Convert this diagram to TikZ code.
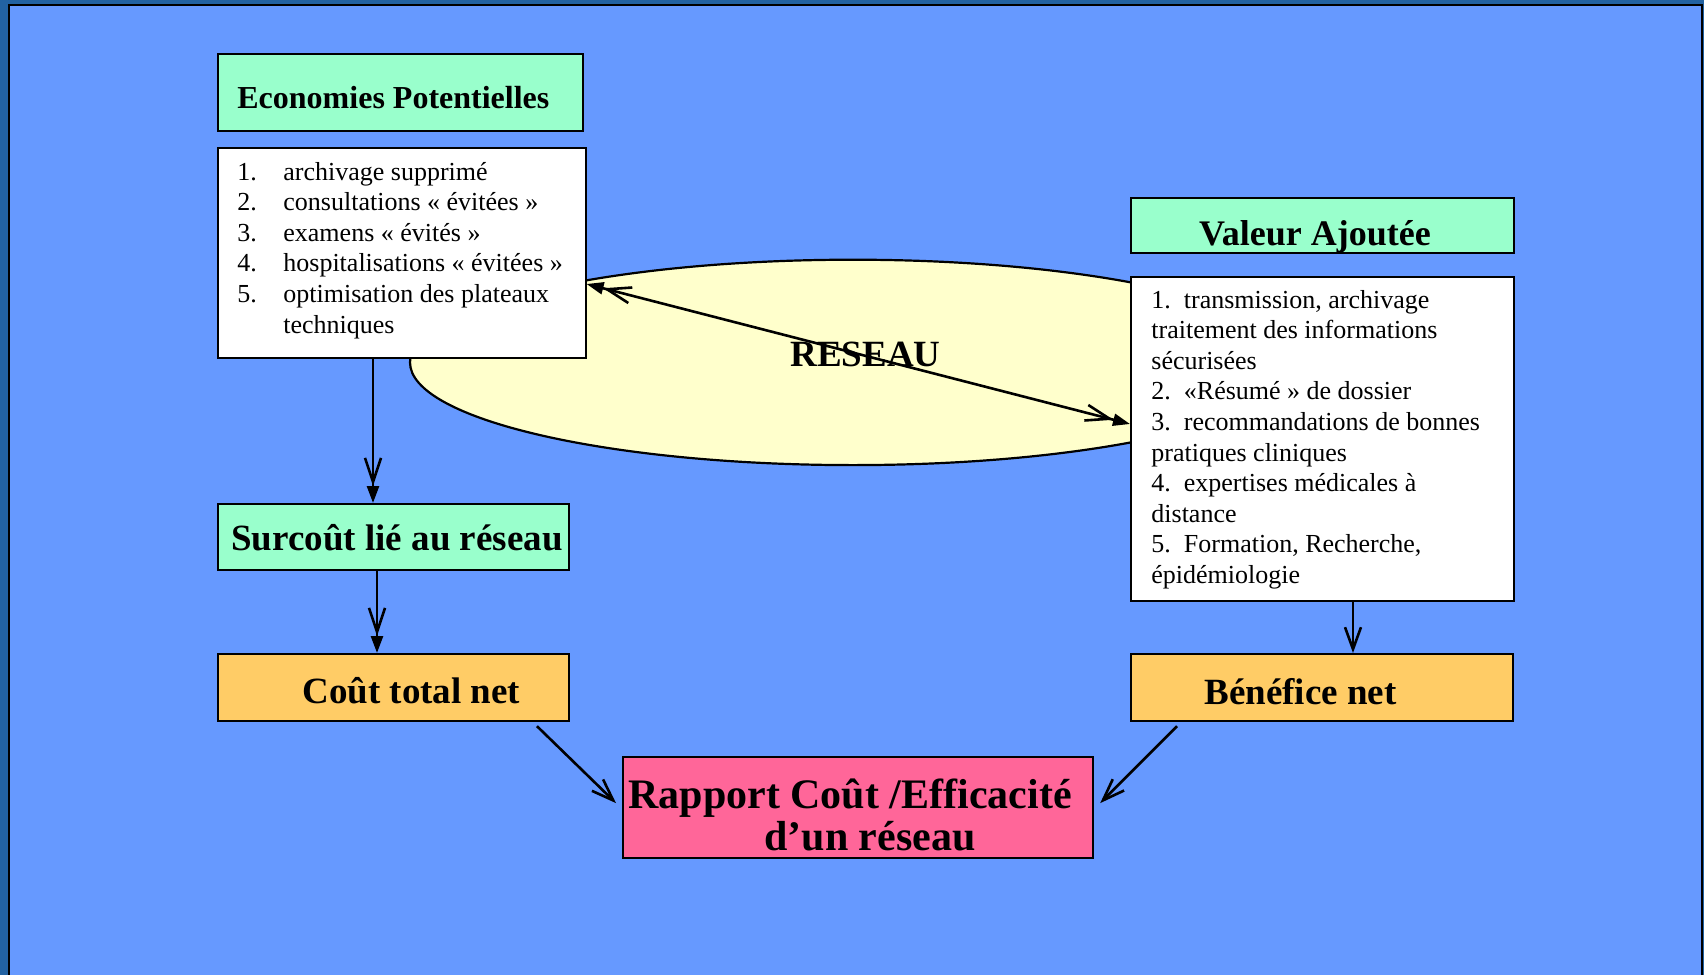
\documentclass[tikz,border=0pt]{standalone}
\usepackage{fontspec}
\setmainfont{Liberation Serif}
\usetikzlibrary{arrows.meta,shapes.geometric,calc}

\definecolor{framedark}{HTML}{2262A2}
\definecolor{slide}{HTML}{6699FF}
\definecolor{mint}{HTML}{99FFCC}
\definecolor{apricot}{HTML}{FFCC66}
\definecolor{rose}{HTML}{FF6699}
\definecolor{cream}{HTML}{FFFFCC}

\tikzset{
  x=0.5pt, y=-0.5pt,
  box/.style={draw, line width=1.1pt, inner sep=0pt, anchor=north west},
  listbox/.style={draw, line width=0.8pt, fill=white, inner sep=0pt, anchor=north west},
  head/.style={font=\fontsize{18.5}{22}\selectfont\bfseries, inner sep=0pt, anchor=base west},
  item/.style={font=\fontsize{13}{15}\selectfont, inner sep=0pt, anchor=base west},
  link/.style={line width=1.3pt},
  flow/.style={link, -{Straight Barb[length=12pt,width=8pt,sep=0pt] Triangle[length=8.5pt,width=6pt]}},
  plain/.style={link, -{Straight Barb[length=11pt,width=8pt]}},
  both/.style={link, {Triangle[length=8.5pt,width=6pt] Straight Barb[length=12pt,width=8pt,sep=0pt]}-{Straight Barb[length=12pt,width=8pt,sep=0pt] Triangle[length=8.5pt,width=6pt]}}
}

\begin{document}
\begin{tikzpicture}
\useasboundingbox (0,0) rectangle (1704,975);

% slide frame and background
\fill[framedark] (0,0) rectangle (1704,975);
\draw[fill=slide, line width=1pt] (9,5) rectangle (1702,990);

% network ellipse in the middle
\node[ellipse, draw, line width=1.1pt, fill=cream, inner sep=0pt,
      minimum width=443pt, minimum height=102.7pt] (reseau) at (853,362.4) {};
\node[head] (reseaulbl) at (790,366) {RESEAU};

% left column
\node[box, fill=mint, minimum width=182.5pt, minimum height=38.5pt] (eco) at (217,53) {};
\node[head, font=\fontsize{16}{19}\selectfont\bfseries] (ecolbl) at (237,108) {Economies Potentielles};

\node[listbox, minimum width=184pt, minimum height=105pt] (ecolist) at (217,147) {};
\foreach \num/\txt [count=\i] in {1./archivage supprimé,
    2./consultations « évitées »,
    3./examens « évités »,
    4./hospitalisations « évitées »,
    5./optimisation des plateaux}{
  \node[item] (en\i) at (237,{180+30.6*(\i-1)}) {\num};
  \node[item] (et\i) at (283,{180+30.6*(\i-1)}) {\txt};
}
\node[item] (et6) at (283,333) {techniques};

\node[box, fill=mint, minimum width=175.5pt, minimum height=33pt] (surcout) at (217,503) {};
\node[head] (surcoutlbl) at (231,550) {Surcoût lié au réseau};

\node[box, fill=apricot, minimum width=175.5pt, minimum height=33.5pt] (cout) at (217,653) {};
\node[head] (coutlbl) at (302,703) {Coût total net};

% right column
\node[box, fill=mint, minimum width=191.5pt, minimum height=27.5pt] (valeur) at (1130,197) {};
\node[head, font=\fontsize{18}{22}\selectfont\bfseries, anchor=base] (valeurlbl) at (1315,245) {Valeur Ajoutée};

\node[listbox, minimum width=191.5pt, minimum height=162pt] (vallist) at (1130,276) {};
\foreach \txt [count=\i] in {{1.~~transmission, archivage},
    {traitement des informations},
    {sécurisées},
    {2.~~«Résumé » de dossier},
    {3.~~recommandations de bonnes},
    {pratiques cliniques},
    {4.~~expertises médicales à},
    {distance},
    {5.~~Formation, Recherche,},
    {épidémiologie}}{
  \node[item] (vt\i) at (1151,{308+30.6*(\i-1)}) {\txt};
}

\node[box, fill=apricot, minimum width=191pt, minimum height=33.5pt] (benef) at (1130,653) {};
\node[head] (beneflbl) at (1204,704) {Bénéfice net};

% bottom result
\node[box, fill=rose, minimum width=235pt, minimum height=50.5pt] (rapport) at (622,756) {};
\node[head, font=\fontsize{21}{25}\selectfont\bfseries] (rap1) at (628,808) {Rapport Coût /Efficacité};
\node[head, font=\fontsize{21}{25}\selectfont\bfseries] (rap2) at (764,850) {d’un réseau};

% connectors
\draw[both] ([yshift=-68.5pt]ecolist.north east) -- ([yshift=-74pt]vallist.north west);
\draw[flow] ([xshift=78pt]ecolist.south west) -- ([xshift=78pt]ecolist.south west |- surcout.north);
\draw[flow] ([xshift=80pt]surcout.south west) -- ([xshift=80pt]surcout.south west |- cout.north);
\draw[plain] ([xshift=111.5pt]vallist.south west) -- ([xshift=111.5pt]vallist.south west |- benef.north);
\draw[plain] ([shift={(160pt,-2pt)}]cout.south west) -- ([shift={(-3pt,2.25pt)}]rapport.west);
\draw[plain] ([shift={(23.5pt,-2pt)}]benef.south west) -- ([shift={(3pt,2.25pt)}]rapport.east);
\end{tikzpicture}
\end{document}
